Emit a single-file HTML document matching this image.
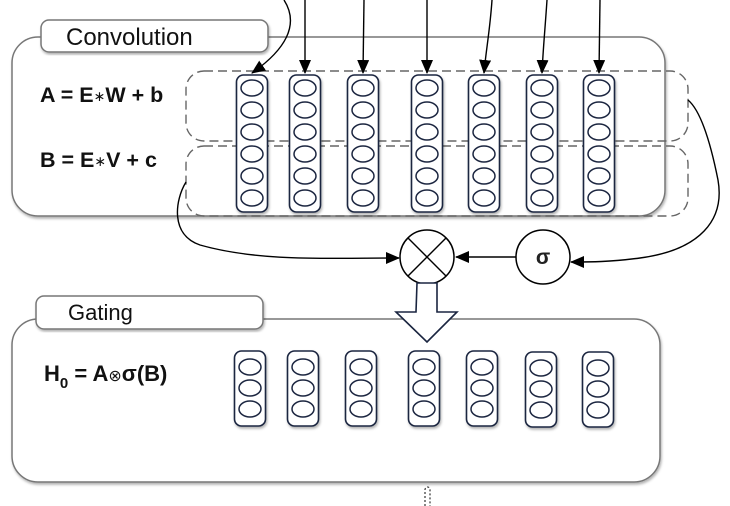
<!DOCTYPE html>
<html><head><style>
html,body{margin:0;padding:0;background:#fff;}
svg{display:block;}
text{font-family:"Liberation Sans",sans-serif;}
</style></head><body>
<svg width="730" height="506" viewBox="0 0 730 506" xmlns="http://www.w3.org/2000/svg">
<defs>
<marker id="ah" markerWidth="14" markerHeight="12" refX="13" refY="6" orient="auto" markerUnits="userSpaceOnUse" viewBox="0 0 14 12">
<path d="M0,0 L14,6 L0,12 z" fill="#000"/></marker>
<filter id="sh" x="-5%" y="-5%" width="110%" height="115%"><feDropShadow dx="1" dy="2" stdDeviation="1.2" flood-color="#000" flood-opacity="0.3"/></filter>
<g id="col6">
<rect x="-15.5" y="0" width="31" height="137" rx="7" fill="#fff" stroke="#1a2540" stroke-width="1.6"/>
<ellipse cx="0" cy="13" rx="11" ry="8" fill="#fff" stroke="#1a2540" stroke-width="1.5"/>
<ellipse cx="0" cy="35" rx="11" ry="8" fill="#fff" stroke="#1a2540" stroke-width="1.5"/>
<ellipse cx="0" cy="57" rx="11" ry="8" fill="#fff" stroke="#1a2540" stroke-width="1.5"/>
<ellipse cx="0" cy="79" rx="11" ry="8" fill="#fff" stroke="#1a2540" stroke-width="1.5"/>
<ellipse cx="0" cy="101" rx="11" ry="8" fill="#fff" stroke="#1a2540" stroke-width="1.5"/>
<ellipse cx="0" cy="123" rx="11" ry="8" fill="#fff" stroke="#1a2540" stroke-width="1.5"/>
</g>
<g id="col3">
<rect x="-15.5" y="0" width="31" height="75" rx="7" fill="#fff" stroke="#1a2540" stroke-width="1.6"/>
<ellipse cx="0" cy="16" rx="11" ry="8" fill="#fff" stroke="#1a2540" stroke-width="1.5"/>
<ellipse cx="0" cy="37" rx="11" ry="8" fill="#fff" stroke="#1a2540" stroke-width="1.5"/>
<ellipse cx="0" cy="58" rx="11" ry="8" fill="#fff" stroke="#1a2540" stroke-width="1.5"/>
</g>
</defs>

<rect x="12" y="37" width="653" height="179" rx="26" fill="#fff" stroke="#777" stroke-width="1.5" filter="url(#sh)"/>
<rect x="41" y="20" width="227" height="32" rx="8" fill="#fff" stroke="#777" stroke-width="1.5" filter="url(#sh)"/>
<text x="66" y="45" font-size="24" fill="#111">Convolution</text>
<text x="40" y="102" font-size="21.5" font-weight="bold" fill="#111">A = E<tspan font-size="14" font-weight="normal" dy="-1">∗</tspan><tspan dy="1">W + b</tspan></text>
<text x="40" y="167" font-size="21.5" font-weight="bold" fill="#111">B = E<tspan font-size="14" font-weight="normal" dy="-1">∗</tspan><tspan dy="1">V + c</tspan></text>

<rect x="186" y="71" width="502" height="70" rx="18" fill="none" stroke="#666" stroke-width="1.4" stroke-dasharray="9,5"/>
<rect x="186" y="146" width="502" height="70" rx="18" fill="none" stroke="#666" stroke-width="1.4" stroke-dasharray="9,5"/>

<g filter="url(#sh)">
<use href="#col6" x="252" y="75"/>
<use href="#col6" x="305" y="75"/>
<use href="#col6" x="363" y="75"/>
<use href="#col6" x="427" y="75"/>
<use href="#col6" x="484" y="75"/>
<use href="#col6" x="542" y="75"/>
<use href="#col6" x="599" y="75"/>
</g>

<g stroke="#000" stroke-width="1.4" fill="none" marker-end="url(#ah)">
<path d="M284,0 C300,25 285,50 252,73"/>
<path d="M305,0 L305,73"/>
<path d="M364,0 L363,73"/>
<path d="M427,0 L427,73"/>
<path d="M492,0 C490,30 486,50 484,73"/>
<path d="M547,0 C545,30 543,50 542,73"/>
<path d="M600,0 L599,73"/>
</g>

<g stroke="#000" stroke-width="1.4" fill="none" marker-end="url(#ah)">
<path d="M186,182 C175,200 170,235 200,245 C260,262 330,258 399,258"/>
<path d="M516,257 L456,257"/>
<path d="M688,100 C700,110 710,140 718,180 C725,220 700,250 640,258 C610,262 590,262 571,262"/>
</g>

<circle cx="427" cy="257" r="27" fill="#fff" stroke="#000" stroke-width="1.5"/>
<line x1="408" y1="238" x2="446" y2="276" stroke="#000" stroke-width="1.4"/>
<line x1="446" y1="238" x2="408" y2="276" stroke="#000" stroke-width="1.4"/>
<circle cx="543" cy="257" r="27" fill="#fff" stroke="#000" stroke-width="1.5"/>
<text x="543" y="264" font-size="21" font-weight="bold" text-anchor="middle" fill="#222">σ</text>

<rect x="12" y="319" width="648" height="163" rx="26" fill="#fff" stroke="#777" stroke-width="1.5" filter="url(#sh)"/>
<rect x="36" y="296" width="227" height="33" rx="8" fill="#fff" stroke="#777" stroke-width="1.5" filter="url(#sh)"/>
<text x="68" y="320" font-size="22" fill="#111">Gating</text>
<text x="44" y="381" font-size="22" font-weight="bold" fill="#111">H<tspan font-size="15" dy="7">0</tspan><tspan dy="-7"> = A</tspan><tspan font-size="16" font-weight="normal">⊗</tspan>σ(B)</text>

<path d="M417,283 L437,283 L437,312 L457,312 L427,342 L396,312 L416,312 Z" fill="#fff" stroke="#1a2540" stroke-width="1.6" stroke-linejoin="miter"/>

<g filter="url(#sh)">
<use href="#col3" x="250" y="351"/>
<use href="#col3" x="303" y="351"/>
<use href="#col3" x="361" y="351"/>
<use href="#col3" x="424" y="351"/>
<use href="#col3" x="482" y="351"/>
<use href="#col3" x="541" y="352"/>
<use href="#col3" x="598" y="352"/>
</g>

<path d="M425,506 L425,490 C425,486 430,486 430,490 L430,506" fill="none" stroke="#333" stroke-width="1.2" stroke-dasharray="2,2"/>
</svg>
</body></html>
